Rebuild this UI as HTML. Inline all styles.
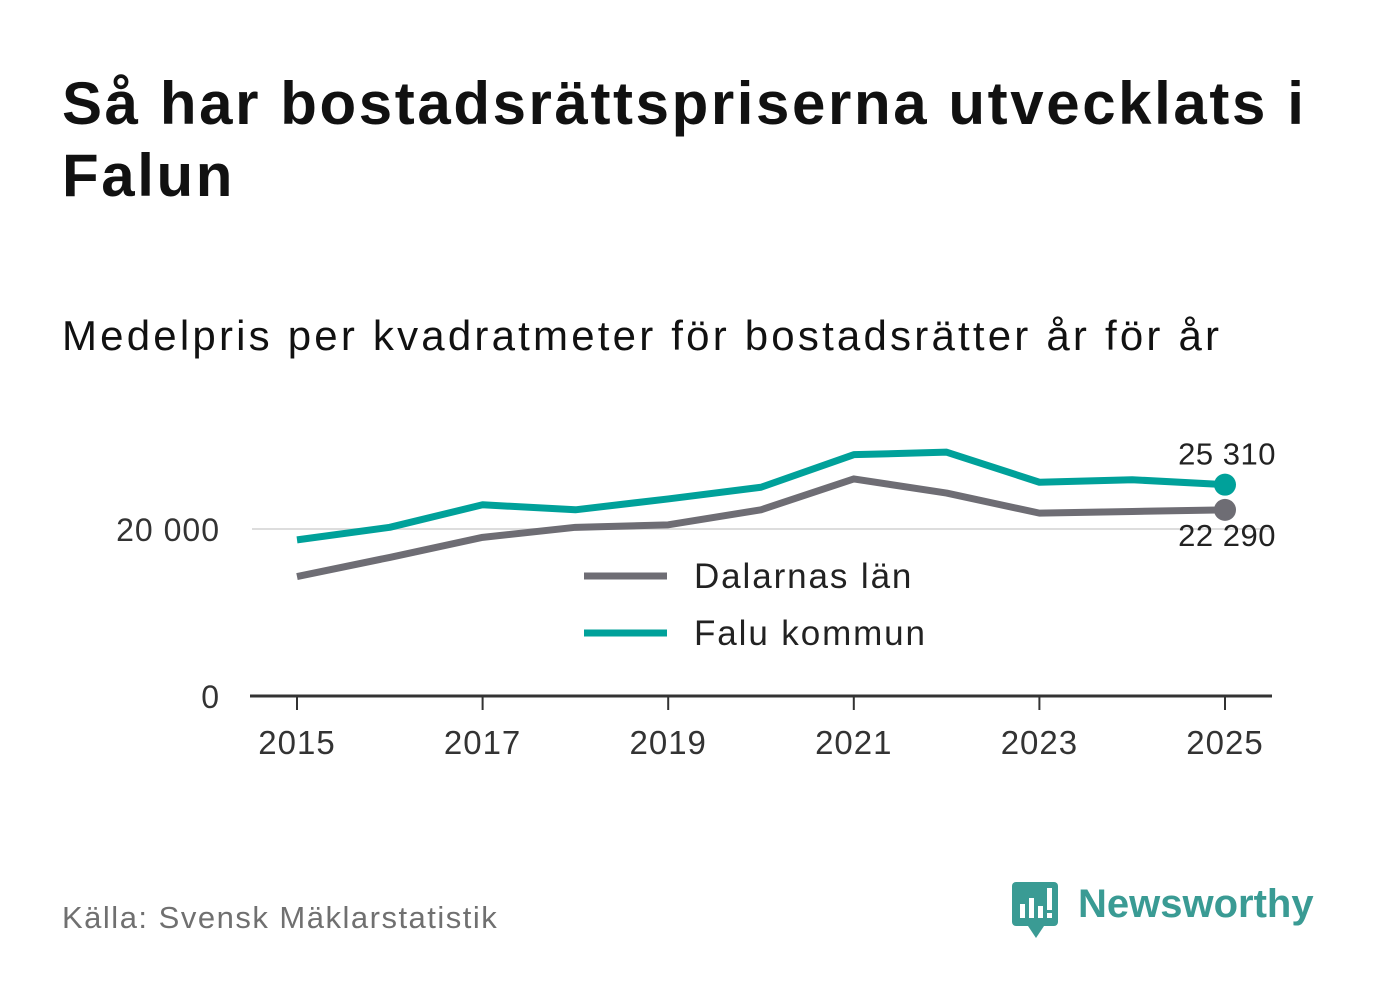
<!DOCTYPE html>
<html><head><meta charset="utf-8">
<style>
body{margin:0;width:1382px;height:999px;background:#fff;font-family:"Liberation Sans",sans-serif;overflow:hidden;position:relative}
.t{position:absolute;left:62px;top:68px;font-size:60px;font-weight:bold;color:#111;line-height:72px;width:1320px;letter-spacing:2.6px}
.s{position:absolute;left:62px;top:312px;font-size:42px;color:#111;letter-spacing:3.2px}
.src{position:absolute;left:62px;top:900px;font-size:31px;color:#707070;letter-spacing:1.5px}
</style></head><body>
<div class="t">Så har bostadsrättspriserna utvecklats i Falun</div>
<div class="s">Medelpris per kvadratmeter för bostadsrätter år för år</div>
<svg id="c" width="1382" height="999" style="position:absolute;left:0;top:0"></svg>
<div class="src">Källa: Svensk Mäklarstatistik</div>
<div style="position:absolute;left:1010px;top:880px">
<svg width="50" height="60"><rect x="2" y="2" width="46" height="44" rx="4" fill="#3a9b94"/><polygon points="18,46 34,46 26,58" fill="#3a9b94"/><rect x="10" y="24" width="5" height="14" fill="#fff"/><rect x="19" y="18" width="5" height="20" fill="#fff"/><rect x="28" y="26" width="5" height="12" fill="#fff"/><rect x="37" y="8" width="5" height="22" fill="#fff"/><rect x="37" y="33" width="5" height="5" fill="#fff"/></svg>
<span style="position:absolute;left:68px;top:2px;font-size:40px;font-weight:bold;color:#3a9b94">Newsworthy</span></div>
<script>
const years=[2015,2016,2017,2018,2019,2020,2021,2022,2023,2024,2025];
const falu=[18700,20200,22900,22300,23600,25000,28900,29200,25600,25900,25310];
const dalarna=[14300,16600,19000,20200,20500,22300,26000,24300,21900,22100,22290];
const yTicks=[0,20000];
const yTickLabels=["0","20 000"];
const xTicks=[2015,2017,2019,2021,2023,2025];
const svg=document.getElementById('c');const NS='http://www.w3.org/2000/svg';
const x=v=>297+(v-2015)*92.8;const y=v=>696-v*167/20000;
function mk(t,a,txt){const e=document.createElementNS(NS,t);for(const k in a)e.setAttribute(k,a[k]);if(txt!=null)e.textContent=txt;svg.appendChild(e);return e;}
yTicks.forEach((v,i)=>{if(v>0){const g=mk('line',{x1:252,x2:1272,y1:y(v),y2:y(v),stroke:'#ddd','stroke-width':2});}
const t=mk('text',{x:220,y:y(v)+12,'text-anchor':'end','font-size':32,fill:'#333','font-family':'Liberation Sans','letter-spacing':1},yTickLabels[i]);});
const ax=mk('line',{x1:250,x2:1272,y1:696,y2:696,stroke:'#333','stroke-width':3});
xTicks.forEach(v=>{const l=mk('line',{x1:x(v),x2:x(v),y1:696,y2:710,stroke:'#333','stroke-width':2});
const t=mk('text',{x:x(v),y:754,'text-anchor':'middle','font-size':33,fill:'#333','font-family':'Liberation Sans','letter-spacing':1},v);});
function series(d,col,name){const p=mk('polyline',{points:d.map((v,i)=>x(years[i])+','+y(v)).join(' '),fill:'none',stroke:col,'stroke-width':7,'stroke-linejoin':'round'});
const n=d.length-1;const c=mk('circle',{cx:x(years[n]),cy:y(d[n]),r:11,fill:col});}
series(dalarna,'#6e6d74','dalarna');series(falu,'#00a19a','falu');
const fmt=v=>String(v).replace(/\B(?=(\d{3})+(?!\d))/g,' ');
let t1=mk('text',{x:1276,y:y(falu[10])-20,'text-anchor':'end','font-size':31,fill:'#222','font-family':'Liberation Sans','letter-spacing':0.5},fmt(falu[10]));
let t2=mk('text',{x:1276,y:y(dalarna[10])+36,'text-anchor':'end','font-size':31,fill:'#222','font-family':'Liberation Sans','letter-spacing':0.5},fmt(dalarna[10]));
[['Dalarnas län','#6e6d74',576],['Falu kommun','#00a19a',633]].forEach(([n,c,yy])=>{const l=mk('line',{x1:584,x2:667,y1:yy,y2:yy,stroke:c,'stroke-width':7});
const t=mk('text',{x:694,y:yy+12,'font-size':35,fill:'#222','font-family':'Liberation Sans','letter-spacing':1.9},n);});
</script>
</body></html>
